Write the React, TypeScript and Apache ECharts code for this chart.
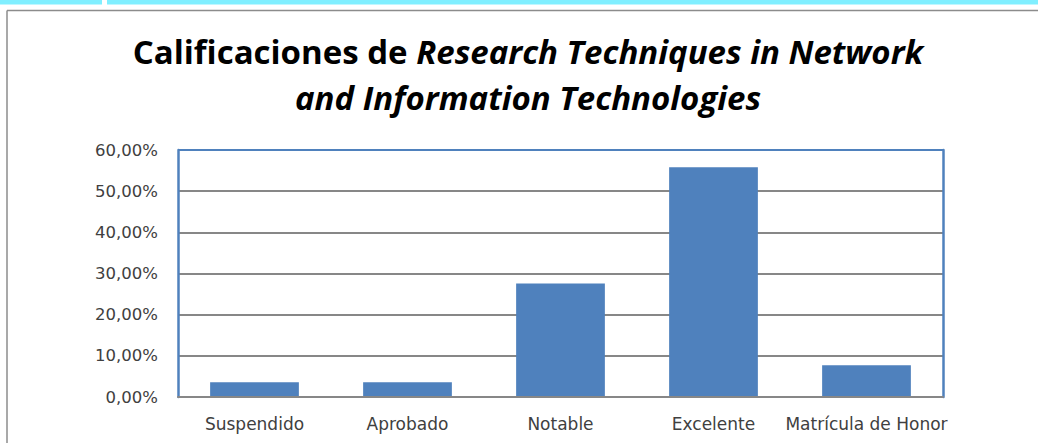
import React, { useEffect, useRef } from "react";
import * as echarts from "echarts";

const categories = ["Suspendido", "Aprobado", "Notable", "Excelente", "Matrícula de Honor"];
const values = [3.6, 3.6, 27.6, 55.8, 7.7];
const yMin = 0;
const yMax = 60;
const yInterval = 10;

export default function App() {
  const ref = useRef<HTMLDivElement>(null);
  useEffect(() => {
    document.body.style.margin = "0";
    if (!ref.current) return;
    const chart = echarts.init(ref.current, null, { renderer: "svg" });
    const gray = "#878787";
    const blue = "#4f81bd";
    const labelFont = "DejaVu Sans";
    chart.setOption({
      animation: false,
      backgroundColor: "#ffffff",
      grid: { left: 178, top: 150, right: 95, bottom: 46, containLabel: false },
      graphic: [
        { type: "rect", shape: { x: 0, y: 0, width: 102, height: 4.5 }, style: { fill: "#80efff" } },
        { type: "rect", shape: { x: 107, y: 0, width: 931, height: 4.5 }, style: { fill: "#80efff" } },
        { type: "line", shape: { x1: 7, y1: 10.5, x2: 1038, y2: 10.5 }, style: { stroke: "#8c8c8c", lineWidth: 1.5 } },
        { type: "line", shape: { x1: 7, y1: 10.5, x2: 7, y2: 443 }, style: { stroke: "#8c8c8c", lineWidth: 1.5 } },
        {
          type: "text",
          x: 528,
          y: 74,
          style: {
            text: "{n|Calificaciones de }{i|Research Techniques in Network}\n{i|and Information Technologies}",
            align: "center",
            verticalAlign: "middle",
            rich: {
              n: { fontFamily: "Open Sans", fontWeight: "bold", fontSize: 33, lineHeight: 46, fill: "#000" },
              i: { fontFamily: "Open Sans", fontWeight: "bold", fontStyle: "italic", fontSize: 33, lineHeight: 46, fill: "#000" },
            },
          },
        },
      ],
      xAxis: {
        type: "category",
        data: categories,
        axisLine: { show: true, lineStyle: { color: gray, width: 2 } },
        axisTick: { show: false },
        axisLabel: { color: "#404040", fontFamily: labelFont, fontSize: 17, margin: 18, interval: 0 },
        splitLine: { show: false },
        z: 3,
      },
      yAxis: [
        {
          type: "value",
          min: yMin,
          max: yMax,
          interval: yInterval,
          axisLine: { show: true, lineStyle: { color: blue, width: 2.5 } },
          axisTick: { show: false },
          axisLabel: {
            color: "#404040",
            fontFamily: labelFont,
            fontSize: 16.5,
            margin: 20,
            formatter: (v: number) => v.toFixed(2).replace(".", ",") + "%",
          },
          splitLine: {
            show: true,
            lineStyle: { color: [gray, gray, gray, gray, gray, gray, blue], width: 2 },
          },
        },
        {
          type: "value",
          min: yMin,
          max: yMax,
          interval: yInterval,
          position: "right",
          axisLine: { show: true, lineStyle: { color: blue, width: 2.5 } },
          axisTick: { show: false },
          axisLabel: { show: false },
          splitLine: { show: false },
        },
      ],
      series: [
        {
          type: "bar",
          data: values,
          barWidth: "58%",
          itemStyle: { color: blue },
          z: 2,
        },
      ],
    });
    return () => chart.dispose();
  }, []);
  return <div ref={ref} style={{ width: 1038, height: 443 }} />;
}
